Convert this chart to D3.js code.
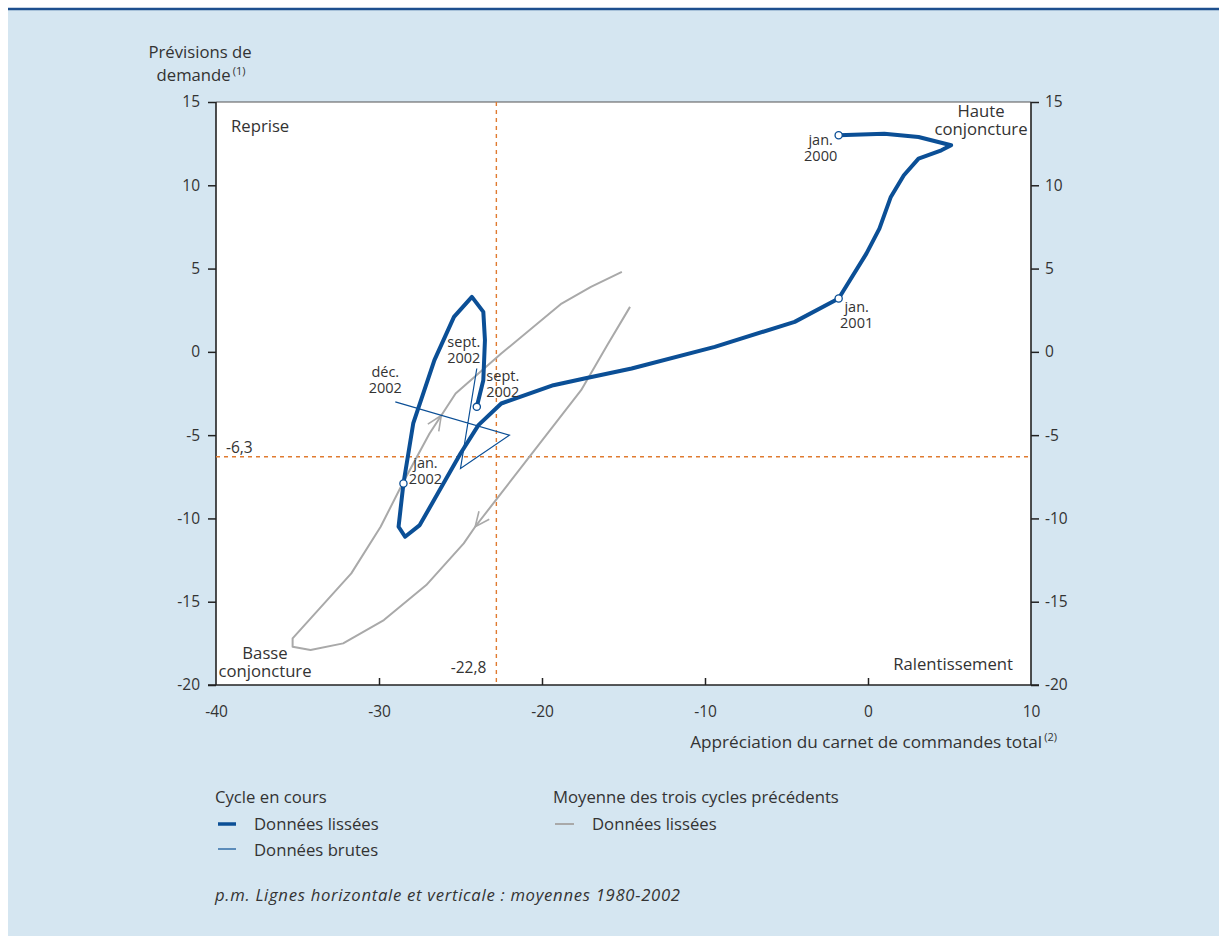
<!DOCTYPE html>
<html><head><meta charset="utf-8">
<script src="https://cdn.jsdelivr.net/npm/d3@7"></script>
<style>
body{margin:0;background:#fff}
svg text{font-family:"Open Sans","Noto Sans",sans-serif;fill:#333}
</style>
</head><body>
<svg id="chart" width="1219" height="936"></svg>
<script>
// ---- Data ----
const xTicks = [-40, -30, -20, -10, 0, 10];
const yTicks = [15, 10, 5, 0, -5, -10, -15, -20];

// Current cycle, smoothed (order of time: jan. 2000 -> sept. 2002)
const smoothedX = [-1.8, 1.0, 3.1, 5.1, 4.5, 3.1, 2.2, 1.4, 0.7, -0.1, -1.8,
  -4.5, -9.4, -14.5, -17.4, -19.3, -22.5, -23.9, -25.0, -27.5, -28.4, -28.8, -28.5,
  -27.9, -26.6, -25.4, -24.3, -23.6, -23.5, -23.6, -24.0];
const smoothedY = [13.0, 13.1, 12.9, 12.4, 12.1, 11.6, 10.6, 9.3, 7.4, 5.9, 3.2,
  1.8, 0.3, -1.0, -1.6, -2.0, -3.1, -4.4, -6.1, -10.4, -11.1, -10.5, -7.9,
  -4.3, -0.5, 2.1, 3.3, 2.4, 0.7, -1.7, -3.3];
// marked months on the smoothed line (index into arrays) and their labels
const markedIdx = [0, 10, 22, 30];
const markedLabels = [["jan.", "2000"], ["jan.", "2001"], ["jan.", "2002"], ["sept.", "2002"]];

// Current cycle, raw data: sept. -> déc. 2002
const rawX = [-24.0, -25.0, -22.0, -29.0];
const rawY = [-1.0, -7.0, -5.0, -3.0];
const rawLabels = [["sept.", "2002"], ["déc.", "2002"]];

// Average of the three previous cycles, smoothed
const avgX = [-14.6, -16.0, -17.6, -24.1, -24.8, -27.1, -29.7, -32.2, -34.2, -35.3, -35.3,
  -31.7, -29.9, -28.5, -26.9, -25.3, -22.5, -18.8, -17.0, -15.1];
const avgY = [2.7, 0.4, -2.3, -10.5, -11.5, -14.0, -16.1, -17.5, -17.9, -17.7, -17.2,
  -13.3, -10.5, -7.8, -4.9, -2.5, -0.1, 2.9, 3.9, 4.8];

// Long-run means 1980-2002
const meanX = -22.8;
const meanY = -6.3;

// ---- Layout ----
const svg = d3.select("#chart");
const L = 216, R = 1031, T = 102, B = 685;
const x = d3.scaleLinear().domain([-40, 10]).range([L, R]);
const y = d3.scaleLinear().domain([-20, 15]).range([B, T]);

const BLUE = "#0b4f96", GREY = "#a9a9a9", ORANGE = "#e07b30", TXT = "#333";
const FS = 16.7;

// panel background
svg.append("rect").attr("x", 8).attr("y", 9).attr("width", 1211).attr("height", 927).attr("fill", "#d5e6f1");
svg.append("line").attr("x1", 8).attr("x2", 1219).attr("y1", 9).attr("y2", 9)
  .attr("stroke", "#1d4f8e").attr("stroke-width", 2.5);

// plot area
svg.append("rect").attr("x", L).attr("y", T).attr("width", R - L).attr("height", B - T).attr("fill", "#fff");

// axes
const fmt = d => String(d);
const gL = svg.append("g").attr("transform", `translate(${L},0)`)
  .call(d3.axisLeft(y).tickValues(yTicks).tickFormat(fmt).tickSize(8).tickPadding(8));
const gR = svg.append("g").attr("transform", `translate(${R},0)`)
  .call(d3.axisRight(y).tickValues(yTicks).tickFormat(fmt).tickSize(8).tickPadding(6));
const gB = svg.append("g").attr("transform", `translate(0,${B})`)
  .call(d3.axisBottom(x).tickValues(xTicks).tickFormat(fmt).tickSize(-7).tickPadding(21));
[gL, gR, gB].forEach(g => {
  g.select(".domain").remove();
  g.selectAll(".tick line").attr("stroke", "#222").attr("stroke-width", 1.5);
  g.selectAll(".tick text").attr("fill", TXT).style("font-size", "15.5px")
    .style("font-family", '"Open Sans","Noto Sans",sans-serif');
});
gB.selectAll(".tick").filter(d => d === -40 || d === 10).select("line").remove();

// frame
svg.append("line").attr("x1", L).attr("x2", R).attr("y1", T).attr("y2", T).attr("stroke", "#555").attr("stroke-width", 1);
svg.append("line").attr("x1", L).attr("x2", L).attr("y1", T).attr("y2", B).attr("stroke", "#222").attr("stroke-width", 1.6);
svg.append("line").attr("x1", R).attr("x2", R).attr("y1", T).attr("y2", B).attr("stroke", "#222").attr("stroke-width", 1.6);
svg.append("line").attr("x1", L - 8).attr("x2", R + 8).attr("y1", B).attr("y2", B).attr("stroke", "#222").attr("stroke-width", 1.6);

// mean lines
svg.append("line").attr("x1", x(meanX)).attr("x2", x(meanX)).attr("y1", T).attr("y2", B)
  .attr("stroke", ORANGE).attr("stroke-width", 1.4).attr("stroke-dasharray", "4,4");
svg.append("line").attr("x1", L).attr("x2", R).attr("y1", y(meanY)).attr("y2", y(meanY))
  .attr("stroke", ORANGE).attr("stroke-width", 1.4).attr("stroke-dasharray", "4,4");

const line = d3.line().x(d => x(d[0])).y(d => y(d[1]));

// average of previous cycles
const avgPts = avgX.map((v, i) => [v, avgY[i]]);
svg.append("path").attr("d", line(avgPts)).attr("fill", "none")
  .attr("stroke", GREY).attr("stroke-width", 2).attr("stroke-linejoin", "round");

// direction arrows on the grey curve
function arrow(p0, p1, t) {
  const a = [x(p0[0]), y(p0[1])], b = [x(p1[0]), y(p1[1])];
  const tip = [a[0] + (b[0] - a[0]) * t, a[1] + (b[1] - a[1]) * t];
  const ang = Math.atan2(b[1] - a[1], b[0] - a[0]);
  const len = 16, spread = 0.42;
  const p = s => [tip[0] - len * Math.cos(ang + s), tip[1] - len * Math.sin(ang + s)];
  svg.append("path").attr("d", d3.line()([p(spread), tip, p(-spread)]))
    .attr("fill", "none").attr("stroke", GREY).attr("stroke-width", 1.6);
}
arrow(avgPts[14], avgPts[15], 0.45);
arrow(avgPts[2], avgPts[3], 1.0);

// raw data
const rawPts = rawX.map((v, i) => [v, rawY[i]]);
svg.append("path").attr("d", line(rawPts)).attr("fill", "none")
  .attr("stroke", BLUE).attr("stroke-width", 1.2);

// smoothed current cycle
const smPts = smoothedX.map((v, i) => [v, smoothedY[i]]);
svg.append("path").attr("d", line(smPts)).attr("fill", "none")
  .attr("stroke", BLUE).attr("stroke-width", 4).attr("stroke-linejoin", "round").attr("stroke-linecap", "round");
svg.selectAll("circle.mk").data(markedIdx).enter().append("circle")
  .attr("cx", i => x(smoothedX[i])).attr("cy", i => y(smoothedY[i])).attr("r", 3.6)
  .attr("fill", "#fff").attr("stroke", BLUE).attr("stroke-width", 1.3);

// labels helper
function label2(lines, px, py, anchor, size, lh) {
  const t = svg.append("text").attr("text-anchor", anchor).style("font-size", size + "px");
  lines.forEach((s, k) => t.append("tspan").attr("x", px).attr("y", py + k * (lh || 16)).text(s));
  return t;
}
// marked-month labels
const mOff = [[-18, 10], [18, 13], [22, -15], [26, -26]];
markedIdx.forEach((i, k) => label2(markedLabels[k], x(smoothedX[i]) + mOff[k][0], y(smoothedY[i]) + mOff[k][1], "middle", 14.5, 16));
label2(rawLabels[0], x(rawX[0]) - 13, y(rawY[0]) - 22, "middle", 14.5, 16);
label2(rawLabels[1], x(rawX[3]) - 10, y(rawY[3]) - 25, "middle", 14.5, 16);

// region labels
label2(["Reprise"], L + 15, T + 30, "start", FS);
label2(["Haute", "conjoncture"], 981, 117, "middle", FS, 18);
label2(["Basse", "conjoncture"], 265, 659, "middle", FS, 18);
label2(["Ralentissement"], R - 18, 670, "end", FS);
label2(["-6,3"], L + 10, y(meanY) - 4, "start", 15.5);
label2(["-22,8"], x(meanX) - 10, B - 12, "end", 15.5);

// axis titles
label2(["Prévisions de"], 200, 58, "middle", FS);
const yt = svg.append("text").attr("x", 201).attr("y", 81).attr("text-anchor", "middle").style("font-size", FS + "px");
yt.append("tspan").text("demande");
yt.append("tspan").attr("dx", 2).attr("dy", -6).style("font-size", "11px").text("(1)");
const xt = svg.append("text").attr("x", 1057).attr("y", 748).attr("text-anchor", "end").style("font-size", "17.2px");
xt.append("tspan").text("Appréciation du carnet de commandes total");
xt.append("tspan").attr("dx", 2).attr("dy", -7).style("font-size", "11px").text("(2)");

// legend
label2(["Cycle en cours"], 215, 803, "start", FS);
svg.append("line").attr("x1", 218).attr("x2", 236).attr("y1", 824).attr("y2", 824).attr("stroke", BLUE).attr("stroke-width", 3.5);
label2(["Données lissées"], 254, 830, "start", FS);
svg.append("line").attr("x1", 218).attr("x2", 236).attr("y1", 849).attr("y2", 849).attr("stroke", BLUE).attr("stroke-width", 1.2);
label2(["Données brutes"], 254, 856, "start", FS);
label2(["Moyenne des trois cycles précédents"], 553, 803, "start", FS);
svg.append("line").attr("x1", 555).attr("x2", 574).attr("y1", 824).attr("y2", 824).attr("stroke", GREY).attr("stroke-width", 2);
label2(["Données lissées"], 592, 830, "start", FS);
label2(["p.m. Lignes horizontale et verticale : moyennes 1980-2002"], 215, 901, "start", FS)
  .style("font-style", "italic").style("letter-spacing", "0.7px");
</script>
</body></html>
